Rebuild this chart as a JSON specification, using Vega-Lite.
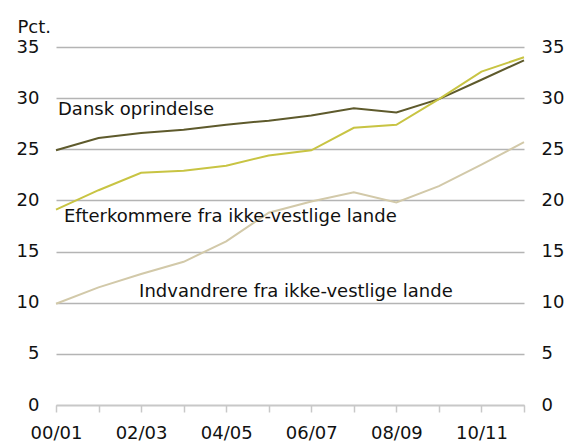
{
  "$schema": "https://vega.github.io/schema/vega-lite/v6.json",
  "autosize": "none",
  "width": 468,
  "height": 358,
  "padding": {"left": 56, "top": 47, "right": 41, "bottom": 38},
  "background": "white",
  "config": {
    "view": {"stroke": null},
    "font": "DejaVu Sans",
    "axis": {"labelFont": "DejaVu Sans", "labelFontSize": 18, "labelColor": "#111111", "titleFont": "DejaVu Sans"}
  },
  "data": {
    "values": [
      {"year": "00/01", "serie": "Dansk oprindelse", "pct": 24.9},
      {"year": "01/02", "serie": "Dansk oprindelse", "pct": 26.1},
      {"year": "02/03", "serie": "Dansk oprindelse", "pct": 26.6},
      {"year": "03/04", "serie": "Dansk oprindelse", "pct": 26.9},
      {"year": "04/05", "serie": "Dansk oprindelse", "pct": 27.4},
      {"year": "05/06", "serie": "Dansk oprindelse", "pct": 27.8},
      {"year": "06/07", "serie": "Dansk oprindelse", "pct": 28.3},
      {"year": "07/08", "serie": "Dansk oprindelse", "pct": 29.0},
      {"year": "08/09", "serie": "Dansk oprindelse", "pct": 28.6},
      {"year": "09/10", "serie": "Dansk oprindelse", "pct": 29.9},
      {"year": "10/11", "serie": "Dansk oprindelse", "pct": 31.8},
      {"year": "11/12", "serie": "Dansk oprindelse", "pct": 33.7},
      {"year": "00/01", "serie": "Efterkommere", "pct": 19.1},
      {"year": "01/02", "serie": "Efterkommere", "pct": 21.0},
      {"year": "02/03", "serie": "Efterkommere", "pct": 22.7},
      {"year": "03/04", "serie": "Efterkommere", "pct": 22.9},
      {"year": "04/05", "serie": "Efterkommere", "pct": 23.4},
      {"year": "05/06", "serie": "Efterkommere", "pct": 24.4},
      {"year": "06/07", "serie": "Efterkommere", "pct": 24.9},
      {"year": "07/08", "serie": "Efterkommere", "pct": 27.1},
      {"year": "08/09", "serie": "Efterkommere", "pct": 27.4},
      {"year": "09/10", "serie": "Efterkommere", "pct": 29.9},
      {"year": "10/11", "serie": "Efterkommere", "pct": 32.6},
      {"year": "11/12", "serie": "Efterkommere", "pct": 34.0},
      {"year": "00/01", "serie": "Indvandrere", "pct": 9.9},
      {"year": "01/02", "serie": "Indvandrere", "pct": 11.5},
      {"year": "02/03", "serie": "Indvandrere", "pct": 12.8},
      {"year": "03/04", "serie": "Indvandrere", "pct": 14.0},
      {"year": "04/05", "serie": "Indvandrere", "pct": 16.0},
      {"year": "05/06", "serie": "Indvandrere", "pct": 18.8},
      {"year": "06/07", "serie": "Indvandrere", "pct": 19.9},
      {"year": "07/08", "serie": "Indvandrere", "pct": 20.8},
      {"year": "08/09", "serie": "Indvandrere", "pct": 19.8},
      {"year": "09/10", "serie": "Indvandrere", "pct": 21.4},
      {"year": "10/11", "serie": "Indvandrere", "pct": 23.5},
      {"year": "11/12", "serie": "Indvandrere", "pct": 25.7}
    ]
  },
  "encoding": {
    "x": {
      "field": "year", "type": "ordinal",
      "scale": {"type": "point", "padding": 0},
      "axis": {
        "title": null, "labelAngle": 0, "grid": false,
        "domainColor": "#c8c8c8", "domainWidth": 1.5,
        "tickColor": "#c8c8c8", "tickWidth": 1.5, "tickSize": 7,
        "labelPadding": 12,
        "labelExpr": "indexof(['00/01','02/03','04/05','06/07','08/09','10/11'], datum.value) >= 0 ? datum.label : ''"
      }
    }
  },
  "layer": [
    {
      "mark": {"type": "line", "strokeWidth": 2},
      "encoding": {
        "y": {
          "field": "pct", "type": "quantitative",
          "scale": {"domain": [0, 35]},
          "axis": {
            "orient": "left", "values": [0, 5, 10, 15, 20, 25, 30, 35],
            "grid": true, "gridColor": "#b4b4b4", "gridWidth": 1.5,
            "domain": false, "ticks": false, "labelPadding": 17,
            "title": "Pct.", "titleAngle": 0, "titleFontSize": 18, "titleFontWeight": "normal",
            "titleAlign": "left", "titleBaseline": "alphabetic", "titleX": -39, "titleY": -15, "titleColor": "#111111"
          }
        },
        "color": {
          "field": "serie", "type": "nominal", "legend": null,
          "scale": {
            "domain": ["Dansk oprindelse", "Efterkommere", "Indvandrere"],
            "range": ["#5e5a2c", "#c8c443", "#d2c9a9"]
          }
        }
      }
    },
    {
      "mark": {"type": "line", "opacity": 0},
      "encoding": {
        "y": {
          "field": "pct", "type": "quantitative",
          "scale": {"domain": [0, 35]},
          "axis": {
            "orient": "right", "values": [0, 5, 10, 15, 20, 25, 30, 35],
            "grid": false, "domain": false, "ticks": false, "labelPadding": 17, "title": null
          }
        },
        "detail": {"field": "serie"}
      }
    },
    {
      "data": {
        "values": [
          {"year": "00/01", "pct": 28.8, "label": "Dansk oprindelse", "dx": 2},
          {"year": "00/01", "pct": 18.4, "label": "Efterkommere fra ikke-vestlige lande", "dx": 8},
          {"year": "02/03", "pct": 11.0, "label": "Indvandrere fra ikke-vestlige lande", "dx": -2}
        ]
      },
      "mark": {"type": "text", "align": "left", "baseline": "middle", "fontSize": 18, "color": "#111111", "font": "DejaVu Sans"},
      "encoding": {
        "y": {"field": "pct", "type": "quantitative", "axis": null},
        "text": {"field": "label"},
        "xOffset": {"field": "dx", "type": "quantitative", "scale": null}
      }
    }
  ],
  "resolve": {"axis": {"y": "independent"}}
}
